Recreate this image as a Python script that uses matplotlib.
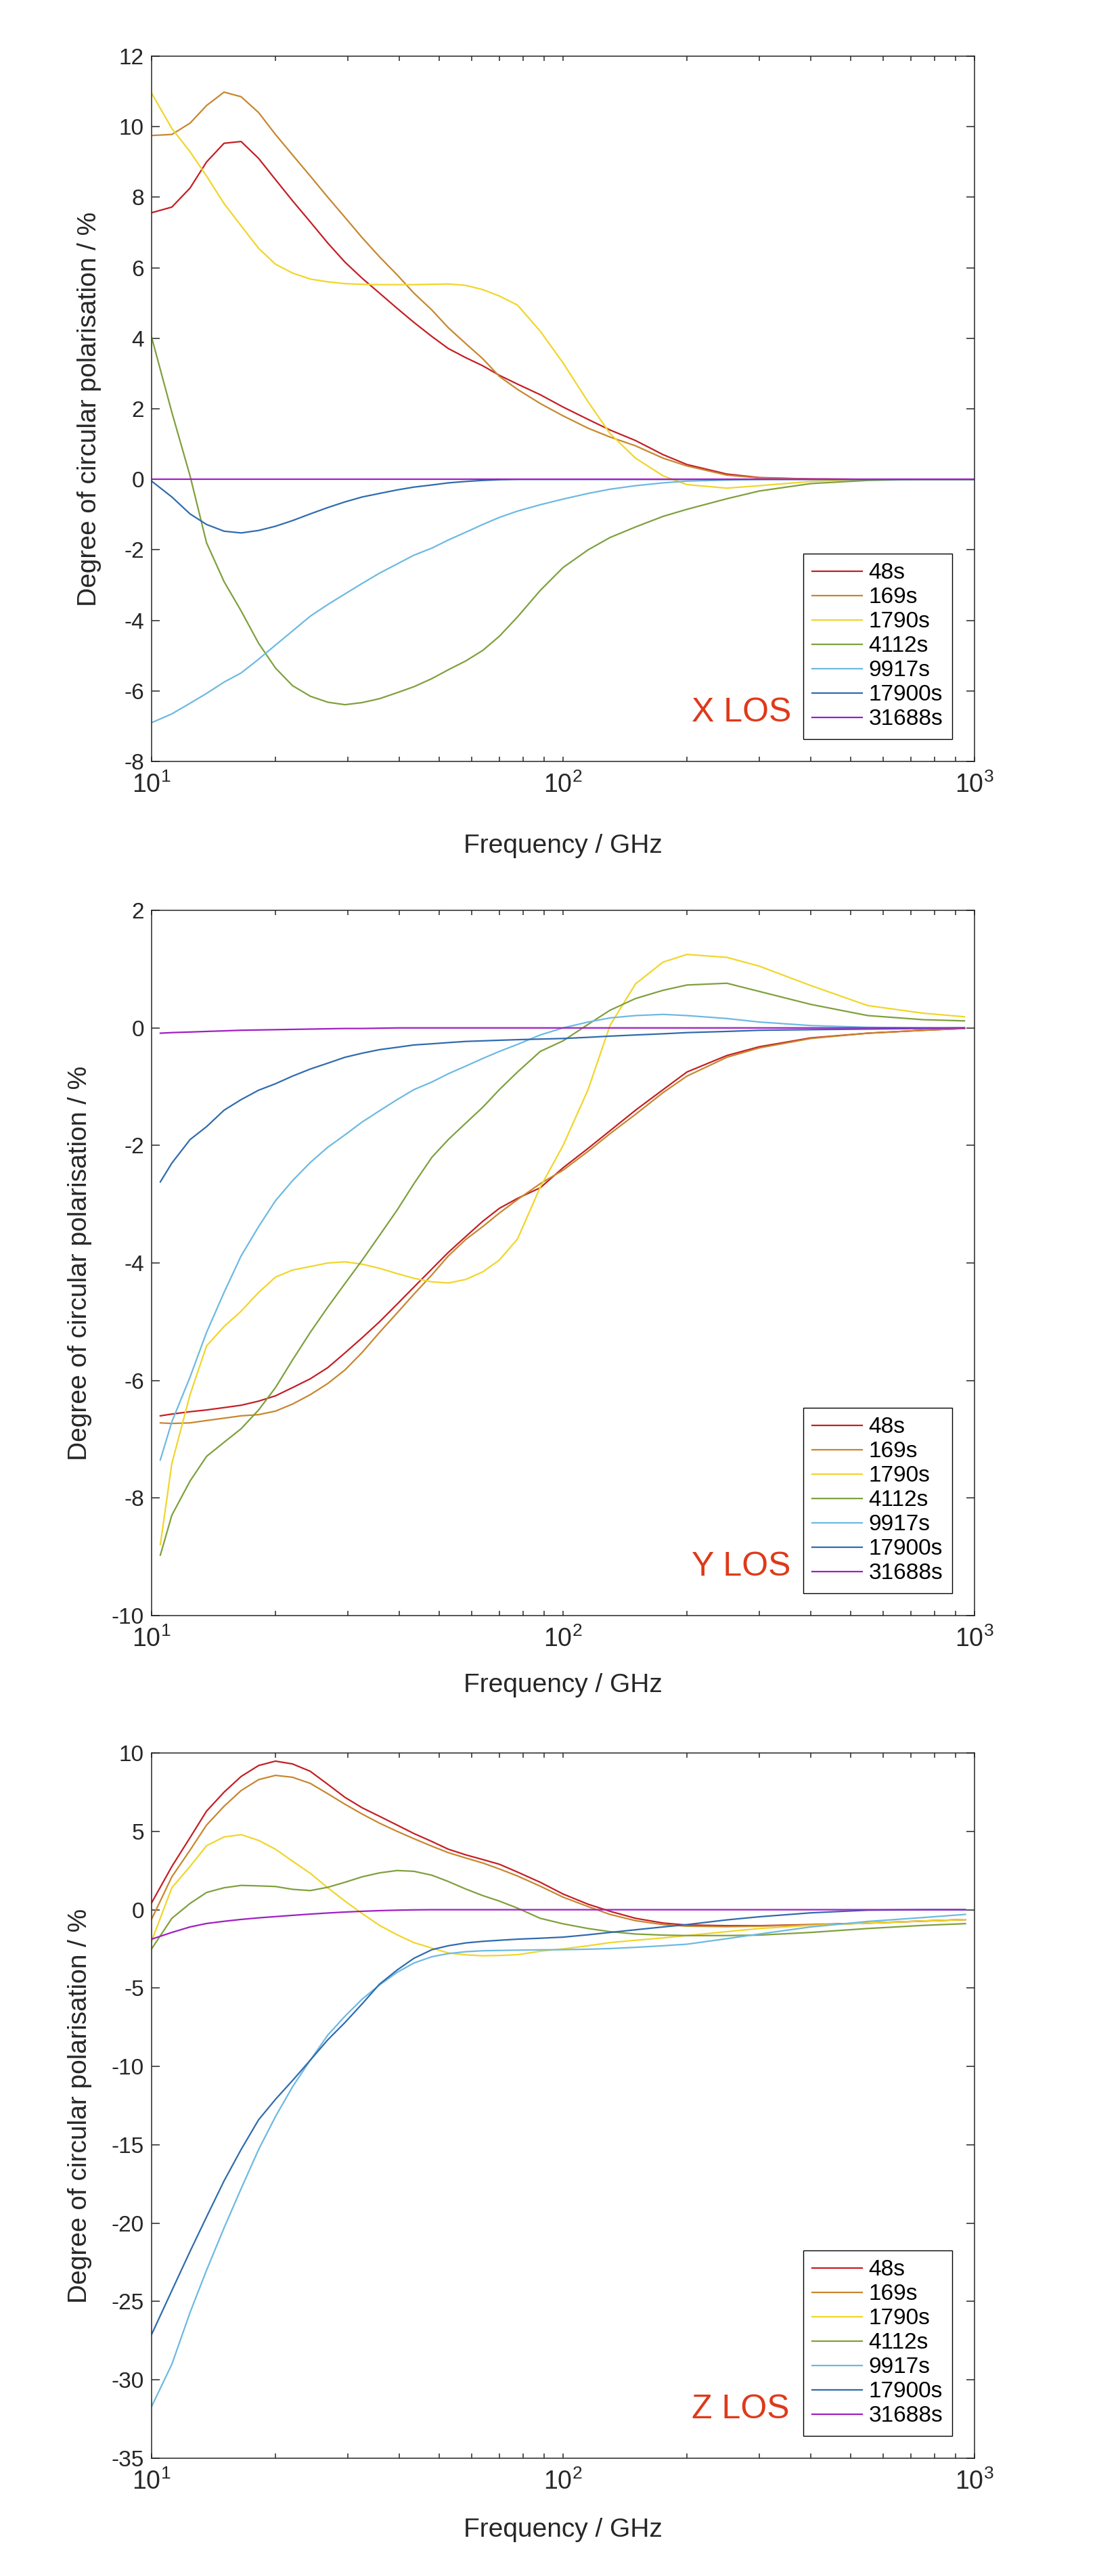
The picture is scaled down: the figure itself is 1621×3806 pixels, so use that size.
import matplotlib
matplotlib.use('Agg')
import matplotlib.pyplot as plt
import numpy as np

plt.rcParams['font.family'] = ['Liberation Sans', 'DejaVu Sans']
plt.rcParams['mathtext.fontset'] = 'custom'
plt.rcParams['mathtext.rm'] = 'Liberation Sans'
plt.rcParams['axes.unicode_minus'] = False   # обычный дефис как в оригинале

labels = ['48s', '169s', '1790s', '4112s', '9917s', '17900s', '31688s']
colors = ['#C41E24', '#C8862E', '#F0D62A', '#7FA03C', '#6DB9E2', '#2F6BAE', '#A01EC2']

# ---------------- X LOS ----------------
f_x = [10, 11.2, 12.4, 13.6, 15, 16.5, 18.2, 20, 22, 24.3, 26.8, 29.5, 32.5, 35.8, 39.5, 43.4, 48, 52.6,
       58, 63.8, 70, 77.5, 88, 100, 115, 130, 150, 175, 200, 250, 300, 400, 550, 750, 1000]
x_48 = [7.56, 7.72, 8.26, 9.0, 9.53, 9.58, 9.1, 8.5, 7.9, 7.3, 6.7, 6.16, 5.7, 5.28, 4.85, 4.45, 4.05, 3.71,
        3.45, 3.22, 2.95, 2.7, 2.4, 2.05, 1.7, 1.4, 1.1, 0.7, 0.42, 0.15, 0.05, 0.01, 0, 0, 0]
x_169 = [9.75, 9.78, 10.1, 10.6, 10.98, 10.85, 10.4, 9.78, 9.2, 8.6, 8.0, 7.43, 6.85, 6.31, 5.8, 5.28, 4.8, 4.3,
         3.85, 3.42, 2.92, 2.55, 2.15, 1.8, 1.45, 1.2, 0.95, 0.6, 0.38, 0.12, 0.04, 0.01, 0, 0, 0]
x_1790 = [10.95, 9.95, 9.29, 8.6, 7.82, 7.19, 6.55, 6.1, 5.85, 5.68, 5.6, 5.55, 5.53, 5.52, 5.52, 5.52, 5.53, 5.54,
          5.5, 5.38, 5.2, 4.94, 4.2, 3.3, 2.2, 1.3, 0.6, 0.1, -0.15, -0.25, -0.18, -0.06, 0, 0, 0]
x_4112 = [4.03, 1.9, 0.1, -1.8, -2.9, -3.73, -4.65, -5.35, -5.85, -6.15, -6.32, -6.39, -6.33, -6.22, -6.05, -5.88,
          -5.65, -5.4, -5.15, -4.85, -4.45, -3.9, -3.15, -2.5, -2.0, -1.65, -1.35, -1.05, -0.85, -0.55, -0.33,
          -0.12, -0.03, 0, 0]
x_9917 = [-6.9, -6.65, -6.35, -6.07, -5.75, -5.49, -5.1, -4.7, -4.3, -3.88, -3.55, -3.25, -2.95, -2.66, -2.4,
          -2.15, -1.95, -1.72, -1.5, -1.28, -1.08, -0.9, -0.72, -0.56, -0.4, -0.28, -0.18, -0.1, -0.05, -0.02,
          0, 0, 0, 0, 0]
x_17900 = [-0.05, -0.5, -0.98, -1.28, -1.47, -1.52, -1.45, -1.33, -1.17, -0.98, -0.8, -0.64, -0.5, -0.4, -0.3,
           -0.22, -0.16, -0.1, -0.06, -0.03, -0.01, 0, 0, 0, 0, 0, 0, 0, 0, 0, 0, 0, 0, 0, 0]
x_31688 = [0] * 35

# ---------------- Y LOS ----------------
f_y = [10.5, 11.2, 12.4, 13.6, 15, 16.5, 18.2, 20, 22, 24.3, 26.8, 29.5, 32.5, 35.8, 39.5, 43.4, 48, 52.6,
       58, 63.8, 70, 77.5, 88, 100, 115, 130, 150, 175, 200, 250, 300, 400, 550, 750, 945]
y_48 = [-6.6, -6.57, -6.53, -6.5, -6.46, -6.42, -6.35, -6.26, -6.12, -5.97, -5.78, -5.53, -5.27, -5.0, -4.7,
        -4.41, -4.1, -3.82, -3.55, -3.29, -3.07, -2.9, -2.72, -2.38, -2.05, -1.75, -1.4, -1.05, -0.75, -0.47,
        -0.32, -0.17, -0.09, -0.04, -0.01]
y_169 = [-6.72, -6.73, -6.72, -6.68, -6.64, -6.6, -6.58, -6.52, -6.4, -6.24, -6.05, -5.82, -5.52, -5.18, -4.85,
         -4.53, -4.2, -3.88, -3.6, -3.38, -3.15, -2.92, -2.65, -2.42, -2.1, -1.8, -1.47, -1.1, -0.82, -0.5,
         -0.34, -0.18, -0.09, -0.04, -0.01]
y_1790 = [-8.79, -7.41, -6.24, -5.41, -5.08, -4.82, -4.5, -4.24, -4.12, -4.06, -4.0, -3.98, -4.02, -4.09, -4.18,
          -4.26, -4.32, -4.34, -4.28, -4.15, -3.95, -3.59, -2.71, -2.0, -1.05, 0.04, 0.75, 1.12, 1.25, 1.2,
          1.05, 0.72, 0.38, 0.25, 0.19]
y_4112 = [-8.97, -8.29, -7.71, -7.29, -7.05, -6.82, -6.5, -6.12, -5.65, -5.18, -4.75, -4.35, -3.95, -3.53, -3.1,
          -2.65, -2.2, -1.9, -1.62, -1.35, -1.05, -0.75, -0.4, -0.22, 0.06, 0.3, 0.5, 0.64, 0.73, 0.76, 0.62,
          0.4, 0.21, 0.14, 0.12]
y_9917 = [-7.35, -6.7, -5.94, -5.18, -4.5, -3.88, -3.38, -2.94, -2.6, -2.29, -2.03, -1.82, -1.6, -1.41, -1.22,
          -1.05, -0.92, -0.78, -0.65, -0.52, -0.4, -0.28, -0.12, 0.0, 0.1, 0.17, 0.21, 0.23, 0.21, 0.16, 0.1,
          0.04, 0.01, 0, 0]
y_17900 = [-2.62, -2.3, -1.9, -1.68, -1.4, -1.22, -1.06, -0.95, -0.82, -0.7, -0.6, -0.5, -0.43, -0.37, -0.33,
           -0.29, -0.27, -0.25, -0.23, -0.22, -0.21, -0.2, -0.19, -0.18, -0.16, -0.14, -0.12, -0.1, -0.08, -0.06,
           -0.04, -0.03, -0.02, -0.01, 0]
y_31688 = [-0.09, -0.08, -0.07, -0.06, -0.05, -0.04, -0.035, -0.03, -0.025, -0.02, -0.015, -0.01, -0.01, -0.005,
           0, 0, 0, 0, 0, 0, 0, 0, 0, 0, 0, 0, 0, 0, 0, 0, 0, 0, 0, 0, 0]

# ---------------- Z LOS ----------------
f_z = [10, 11.2, 12.4, 13.6, 15, 16.5, 18.2, 20, 22, 24.3, 26.8, 29.5, 32.5, 35.8, 39.5, 43.4, 48, 52.6,
       58, 63.8, 70, 77.5, 88, 100, 115, 130, 150, 175, 200, 250, 300, 400, 550, 750, 950]
z_48 = [0.44, 2.76, 4.6, 6.29, 7.5, 8.5, 9.2, 9.48, 9.3, 8.83, 8.0, 7.17, 6.5, 5.96, 5.4, 4.86, 4.35, 3.86,
        3.5, 3.2, 2.9, 2.4, 1.75, 1.0, 0.35, -0.1, -0.55, -0.85, -0.98, -1.02, -1.02, -0.95, -0.85, -0.72, -0.63]
z_169 = [-0.6, 2.1, 3.8, 5.4, 6.6, 7.6, 8.3, 8.57, 8.45, 8.06, 7.4, 6.73, 6.1, 5.52, 5.0, 4.53, 4.05, 3.64,
         3.3, 2.98, 2.6, 2.15, 1.5, 0.8, 0.2, -0.3, -0.7, -0.95, -1.05, -1.08, -1.05, -0.97, -0.86, -0.73, -0.63]
z_1790 = [-2.0, 1.4, 2.76, 4.08, 4.64, 4.79, 4.42, 3.86, 3.1, 2.32, 1.4, 0.55, -0.25, -1.0, -1.6, -2.1, -2.45,
          -2.76, -2.88, -2.94, -2.92, -2.87, -2.65, -2.5, -2.3, -2.1, -1.95, -1.8, -1.65, -1.4, -1.2, -1.0,
          -0.85, -0.72, -0.63]
z_4112 = [-2.5, -0.55, 0.4, 1.1, 1.4, 1.55, 1.52, 1.48, 1.3, 1.22, 1.43, 1.75, 2.1, 2.35, 2.5, 2.45, 2.2, 1.8,
          1.32, 0.9, 0.55, 0.1, -0.55, -0.9, -1.2, -1.4, -1.55, -1.62, -1.65, -1.65, -1.62, -1.45, -1.2, -1.0,
          -0.89]
z_9917 = [-31.7, -29.0, -25.7, -23.0, -20.3, -17.8, -15.3, -13.2, -11.3, -9.6, -8.0, -6.8, -5.7, -4.8, -4.0,
          -3.4, -3.0, -2.8, -2.68, -2.62, -2.6, -2.58, -2.56, -2.55, -2.52, -2.48, -2.4, -2.3, -2.2, -1.85,
          -1.55, -1.1, -0.75, -0.5, -0.3]
z_17900 = [-27.1, -24.3, -21.8, -19.6, -17.3, -15.3, -13.4, -12.1, -10.9, -9.6, -8.3, -7.2, -6.0, -4.75, -3.85,
           -3.1, -2.55, -2.3, -2.12, -2.02, -1.95, -1.88, -1.82, -1.75, -1.6, -1.45, -1.28, -1.1, -0.95, -0.65,
           -0.45, -0.2, -0.03, 0, 0]
z_31688 = [-1.88, -1.45, -1.1, -0.88, -0.74, -0.62, -0.52, -0.44, -0.36, -0.28, -0.21, -0.15, -0.1, -0.06,
           -0.03, -0.01, 0, 0, 0, 0, 0, 0, 0, 0, 0, 0, 0, 0, 0, 0, 0, 0, 0, 0, 0]

panels = [
    (f_x, [x_48, x_169, x_1790, x_4112, x_9917, x_17900, x_31688], 'X LOS', (-8, 12), np.arange(-8, 13, 2)),
    (f_y, [y_48, y_169, y_1790, y_4112, y_9917, y_17900, y_31688], 'Y LOS', (-10, 2), np.arange(-10, 3, 2)),
    (f_z, [z_48, z_169, z_1790, z_4112, z_9917, z_17900, z_31688], 'Z LOS', (-35, 10), np.arange(-35, 11, 5)),
]

fig = plt.figure(figsize=(16.21, 38.06), dpi=100)
bottoms = [0.7044, 0.3728, 0.0457]
ylab_x = [-0.061, -0.072, -0.072]   # положение подписи оси y
xlab_y = [-0.103, -0.081, -0.084]   # положение подписи оси x

for i, (f, series, name, ylim, yt) in enumerate(panels):
    ax = fig.add_axes([0.1382, bottoms[i], 0.7502, 0.2738])
    for s, lab, c in zip(series, labels, colors):
        ax.plot(f, s, color=c, lw=1.6, label=lab)
    ax.set_xscale('log')
    ax.set_xlim(10, 1000)
    ax.set_ylim(*ylim)
    ax.set_yticks(yt)
    for sp in ax.spines.values():
        sp.set_color('#262626')
        sp.set_linewidth(1.1)
    ax.tick_params(axis='both', which='both', direction='in', top=True, right=True, colors='#262626')
    ax.tick_params(axis='y', which='major', length=8.5, width=1.1, labelsize=24, pad=8)
    ax.tick_params(axis='x', which='major', length=5, width=1.1, labelsize=27, pad=12)
    ax.tick_params(axis='x', which='minor', length=5, width=1.1)
    ax.set_xlabel('Frequency / GHz', fontsize=28, color='#262626')
    ax.set_ylabel('Degree of circular polarisation / %', fontsize=28, color='#262626')
    ax.yaxis.set_label_coords(ylab_x[i], 0.5)
    ax.xaxis.set_label_coords(0.5, xlab_y[i])
    leg = ax.legend(loc='lower right', fontsize=24, fancybox=False, framealpha=1, edgecolor='black',
                    handlelength=2.2, handletextpad=0.3, labelspacing=0.15, borderaxespad=1.0, borderpad=0.4)
    leg.get_frame().set_linewidth(1.0)
    ax.text(0.656, 0.069, name, transform=ax.transAxes, ha='left', va='center', fontsize=36, color='#DE3A1A')

fig.savefig('out.png', dpi=100)
